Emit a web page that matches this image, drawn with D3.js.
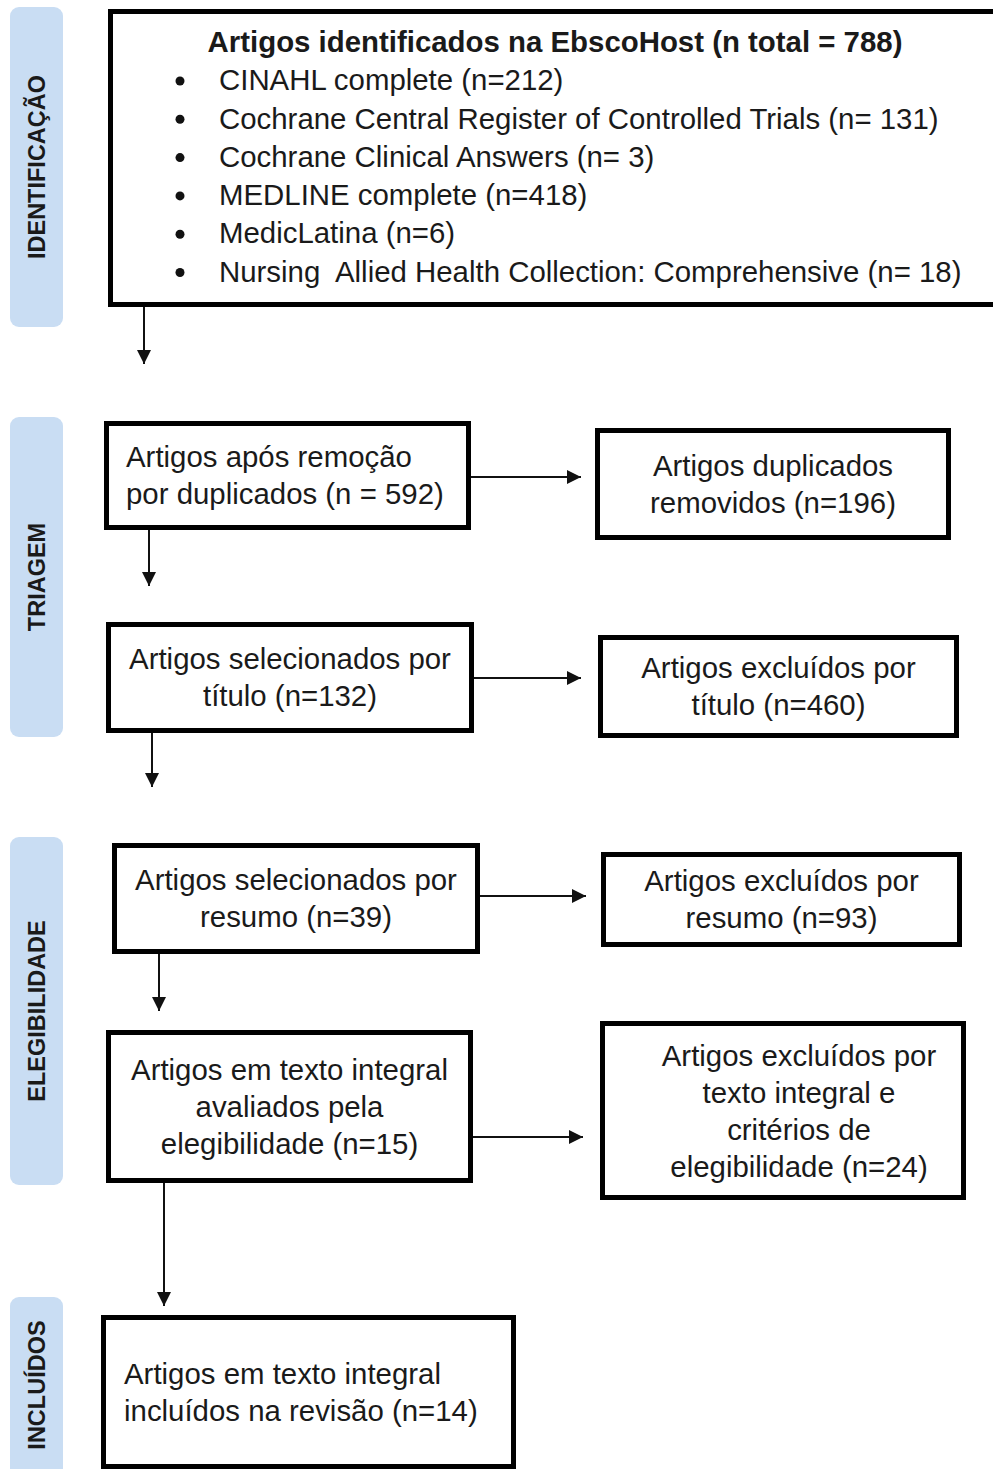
<!DOCTYPE html>
<html>
<head>
<meta charset="utf-8">
<script src="https://cdn.jsdelivr.net/npm/d3@7"></script>
<style>
  body { margin: 0; background: #fff; }
  svg { display: block; }
  text { font-family: "Liberation Sans", Arial, sans-serif; fill: #1a1a1a; white-space: pre; }
</style>
</head>
<body>
<div id="chart"></div>
<script>
// PRISMA flow, values

let stage_labels = ["IDENTIFICAÇÃO", "TRIAGEM", "ELEGIBILIDADE", "INCLUÍDOS"];

let source_title = "Artigos identificados na EbscoHost (n total = 788)";
let source_names = [
  "CINAHL complete (n=212)",
  "Cochrane Central Register of Controlled Trials (n= 131)",
  "Cochrane Clinical Answers (n= 3)",
  "MEDLINE complete (n=418)",
  "MedicLatina (n=6)",
  "Nursing  Allied Health Collection: Comprehensive (n= 18)"
];

let main_texts = [
  ["Artigos após remoção", "por duplicados (n = 592)"],
  ["Artigos selecionados por", "título (n=132)"],
  ["Artigos selecionados por", "resumo (n=39)"],
  ["Artigos em texto integral", "avaliados pela", "elegibilidade (n=15)"],
  ["Artigos em texto integral", "incluídos na revisão (n=14)"]
];

let side_texts = [
  ["Artigos duplicados", "removidos (n=196)"],
  ["Artigos excluídos por", "título (n=460)"],
  ["Artigos excluídos por", "resumo (n=93)"],
  ["Artigos excluídos por", "texto integral e", "critérios de", "elegibilidade (n=24)"]
];

// ---- layout (outer edges of boxes, in px) ----
let width = 993, height = 1469;
let stroke_w = 5;
let line_h = 37;
let font_px = 29.4;

let stage_layout = [
  {y0: 7, y1: 327},
  {y0: 417, y1: 737},
  {y0: 837, y1: 1185},
  {y0: 1297, y1: 1480}
];

let top_box = {x0: 108, y0: 9, x1: 1003, y1: 307, arrow_x: 144, arrow_to: 364};

let main_layout = [
  {x0: 104, y0: 421, x1: 471, y1: 530, align: "start", tx: 126, arrow_x: 149, arrow_to: 586},
  {x0: 106, y0: 622, x1: 474, y1: 733, align: "middle", arrow_x: 152, arrow_to: 787},
  {x0: 112, y0: 843, x1: 480, y1: 954, align: "middle", arrow_x: 159, arrow_to: 1011},
  {x0: 106, y0: 1030, x1: 473, y1: 1183, align: "middle", arrow_x: 164, arrow_to: 1306},
  {x0: 101, y0: 1315, x1: 516, y1: 1469, align: "start", tx: 124, text_cy: 1392}
];

let side_layout = [
  {x0: 595, y0: 428, x1: 951, y1: 540, arrow_y: 477, arrow_to: 581},
  {x0: 598, y0: 635, x1: 959, y1: 738, arrow_y: 678, arrow_to: 581},
  {x0: 601, y0: 852, x1: 962, y1: 947, arrow_y: 896, arrow_to: 586},
  {x0: 600, y0: 1021, x1: 966, y1: 1200, arrow_y: 1137, arrow_to: 583, tx: 799, text_cy: 1111}
];

let svg = d3.select("#chart")
  .append("svg")
    .attr("width", width)
    .attr("height", height)
    .attr("viewBox", "0 0 " + width + " " + height);

svg.append("defs")
  .append("marker")
    .attr("id", "head")
    .attr("viewBox", "0 0 10 10")
    .attr("refX", 10)
    .attr("refY", 5)
    .attr("markerUnits", "userSpaceOnUse")
    .attr("markerWidth", 14)
    .attr("markerHeight", 15)
    .attr("orient", "auto")
  .append("path")
    .attr("d", "M0,0 L10,5 L0,10 Z")
    .attr("fill", "#111");

// stage pills
let stages = svg.append("g").attr("id", "stages");
stages.selectAll("rect")
  .data(stage_layout)
  .join("rect")
    .attr("x", 10)
    .attr("y", d => d.y0)
    .attr("width", 53)
    .attr("height", d => d.y1 - d.y0)
    .attr("rx", 9)
    .attr("fill", "#c9ddf3");

stages.selectAll("text")
  .data(stage_labels)
  .join("text")
    .attr("transform", (d, i) => {
      let l = stage_layout[i];
      let cy = i == 3 ? 1385 : (l.y0 + l.y1) / 2;
      return "translate(37," + cy + ") rotate(-90)";
    })
    .attr("text-anchor", "middle")
    .attr("dy", "0.36em")
    .attr("font-size", 23.5)
    .attr("font-weight", "bold")
    .text(d => d);

let draw_box = function (l) {
  svg.append("rect")
    .attr("x", l.x0 + stroke_w / 2)
    .attr("y", l.y0 + stroke_w / 2)
    .attr("width", l.x1 - l.x0 - stroke_w)
    .attr("height", l.y1 - l.y0 - stroke_w)
    .attr("fill", "#fff")
    .attr("stroke", "#000")
    .attr("stroke-width", stroke_w);
};

let draw_lines = function (lines, l) {
  let cy = l.text_cy != null ? l.text_cy : (l.y0 + l.y1) / 2;
  let x = l.tx != null ? l.tx : (l.x0 + l.x1) / 2;
  let anchor = l.align == "start" ? "start" : "middle";
  let first = cy - (lines.length - 1) * line_h / 2;
  svg.append("g")
    .selectAll("text")
    .data(lines)
    .join("text")
      .attr("x", x)
      .attr("y", (d, i) => first + i * line_h)
      .attr("dy", "0.35em")
      .attr("text-anchor", anchor)
      .attr("font-size", font_px)
      .text(d => d);
};

let arrow = function (x1, y1, x2, y2) {
  svg.append("line")
    .attr("x1", x1).attr("y1", y1)
    .attr("x2", x2).attr("y2", y2)
    .attr("stroke", "#111")
    .attr("stroke-width", 2)
    .attr("marker-end", "url(#head)");
};

// top identification box
draw_box(top_box);
svg.append("text")
  .attr("x", 555)
  .attr("y", 42)
  .attr("dy", "0.35em")
  .attr("text-anchor", "middle")
  .attr("font-size", font_px)
  .attr("font-weight", "bold")
  .text(source_title);

let src = svg.append("g").attr("id", "sources");
src.selectAll("circle")
  .data(source_names)
  .join("circle")
    .attr("cx", 180)
    .attr("cy", (d, i) => 81 + i * 38.3)
    .attr("r", 4.5)
    .attr("fill", "#111");
src.selectAll("text")
  .data(source_names)
  .join("text")
    .attr("x", 219)
    .attr("y", (d, i) => 80 + i * 38.3)
    .attr("dy", "0.35em")
    .attr("font-size", font_px)
    .text(d => d);

arrow(top_box.arrow_x, top_box.y1, top_box.arrow_x, top_box.arrow_to);

main_layout.forEach((l, i) => {
  draw_box(l);
  draw_lines(main_texts[i], l);
  if (l.arrow_x != null) arrow(l.arrow_x, l.y1, l.arrow_x, l.arrow_to);
});

side_layout.forEach((l, i) => {
  draw_box(l);
  draw_lines(side_texts[i], l);
  arrow(main_layout[i].x1, l.arrow_y, l.arrow_to, l.arrow_y);
});
</script>
</body>
</html>
